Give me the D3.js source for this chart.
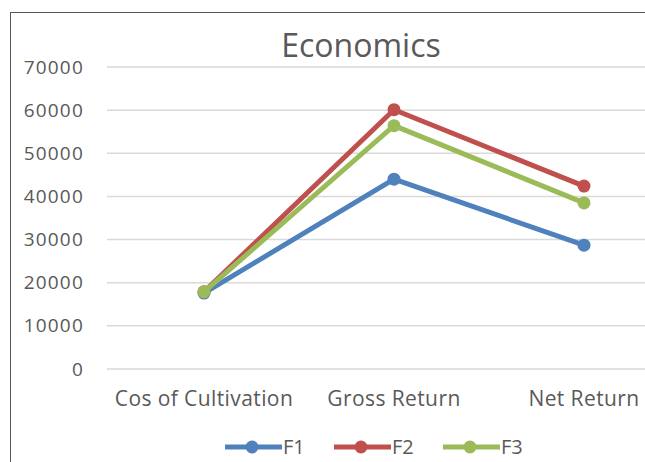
<!DOCTYPE html>
<html>
<head>
<meta charset="utf-8">
<script src="https://cdn.jsdelivr.net/npm/d3@7"></script>
<style>
  html, body { margin: 0; padding: 0; background: #fff; }
</style>
</head>
<body>
<div class="root"></div>
<script>
// Chart data
var categories = ["Cos of Cultivation", "Gross Return", "Net Return"];
var seriesNames = ["F1", "F2", "F3"];
var f1 = [17600, 44000, 28700];
var f2 = [17900, 60100, 42400];
var f3 = [17850, 56400, 38500];
var yTicks = [0, 10000, 20000, 30000, 40000, 50000, 60000, 70000];

var colors = ["#4f81bd", "#c0504d", "#9bbb59"];
var series = [f1, f2, f3].map(function (vals, i) {
  return { name: seriesNames[i], color: colors[i],
    values: vals.map(function (v, j) { return { cat: categories[j], value: v }; }) };
});

var W = 645, H = 462;
var margin = { top: 67, right: -34, bottom: 93, left: 109 },
    width = W - margin.left - margin.right,
    height = H - margin.top - margin.bottom;

var font = "'Open Sans', sans-serif";
var textColor = "#595959";

var svg = d3.select(".root").append("svg")
  .attr("width", W)
  .attr("height", H);

// chart frame (cropped on right / bottom)
svg.append("rect")
  .attr("x", 10.5).attr("y", 12.5)
  .attr("width", 800).attr("height", 600)
  .attr("fill", "none")
  .attr("stroke", "#555")
  .attr("stroke-width", 1);

var g = svg.append("g")
  .attr("transform", "translate(" + margin.left + "," + margin.top + ")");

var xScale = d3.scaleBand().domain(categories).range([0, width]);
var yScale = d3.scaleLinear().domain([0, 70000]).range([height, 0]);

// gridlines
g.append("g")
  .selectAll("line")
  .data(yTicks)
  .join("line")
  .attr("x1", -2).attr("x2", width)
  .attr("y1", function (d) { return yScale(d); })
  .attr("y2", function (d) { return yScale(d); })
  .attr("stroke", "#d9d9d9")
  .attr("stroke-width", 1.5);

// y axis
var yAxis = d3.axisLeft(yScale).tickValues(yTicks).tickSize(0).tickPadding(25)
  .tickFormat(d3.format("d"));
g.append("g")
  .call(yAxis)
  .call(function (s) { s.select(".domain").remove(); })
  .selectAll("text")
  .attr("font-family", font)
  .attr("font-size", 19)
  .attr("letter-spacing", 1.2)
  .attr("fill", textColor);

// x axis
var xAxis = d3.axisBottom(xScale).tickSize(0).tickPadding(22);
g.append("g")
  .attr("transform", "translate(0," + height + ")")
  .call(xAxis)
  .call(function (s) { s.select(".domain").remove(); })
  .selectAll("text")
  .attr("font-family", font)
  .attr("font-size", 21)
  .attr("letter-spacing", 0.4)
  .attr("fill", textColor);

// lines
var line = d3.line()
  .x(function (d) { return xScale(d.cat) + xScale.bandwidth() / 2; })
  .y(function (d) { return yScale(d.value); });

series.forEach(function (s) {
  g.append("path").datum(s.values)
    .attr("fill", "none")
    .attr("stroke", s.color)
    .attr("stroke-width", 5)
    .attr("stroke-linejoin", "round")
    .attr("stroke-linecap", "round")
    .attr("d", line);
  g.append("g").selectAll("circle")
    .data(s.values)
    .join("circle")
    .attr("cx", function (d) { return xScale(d.cat) + xScale.bandwidth() / 2; })
    .attr("cy", function (d) { return yScale(d.value); })
    .attr("r", 6.5)
    .attr("fill", s.color);
});

// title
svg.append("text")
  .attr("x", 361).attr("y", 57)
  .attr("text-anchor", "middle")
  .attr("font-family", font)
  .attr("font-size", 32)
  .attr("fill", textColor)
  .text("Economics");

// legend
var legend = svg.append("g").attr("transform", "translate(225,447)");
var item = legend.selectAll("g")
  .data(series)
  .join("g")
  .attr("transform", function (d, i) { return "translate(" + (i * 109) + ",0)"; });
item.append("line")
  .attr("x1", 0).attr("x2", 57)
  .attr("stroke", function (d) { return d.color; })
  .attr("stroke-width", 5);
item.append("circle")
  .attr("cx", 27).attr("r", 6.5)
  .attr("fill", function (d) { return d.color; });
item.append("text")
  .attr("x", 58).attr("dy", "0.36em")
  .attr("font-family", font)
  .attr("font-size", 20)
  .attr("fill", textColor)
  .text(function (d) { return d.name; });
</script>
</body>
</html>
